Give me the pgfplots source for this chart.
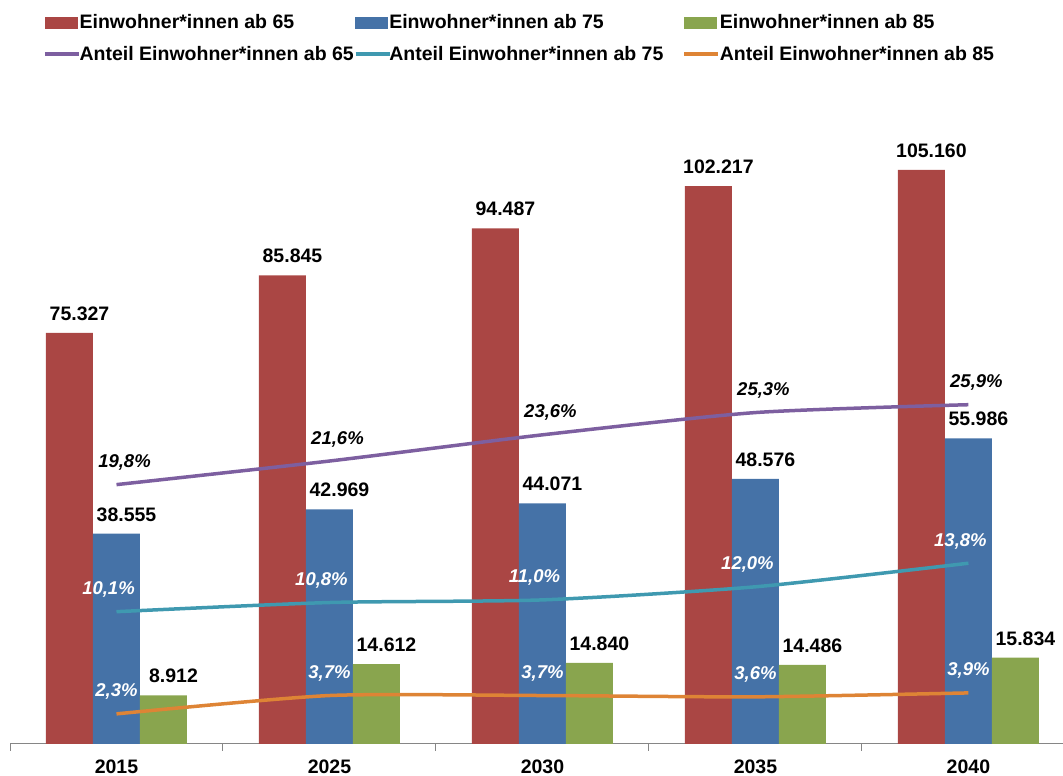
\documentclass[border=0pt]{standalone}
\usepackage{fontspec}
\setmainfont{Liberation Sans}
\usepackage{pgfplots}
\pgfplotsset{compat=1.18}
\definecolor{cR}{HTML}{AA4644}
\definecolor{cB}{HTML}{4572A7}
\definecolor{cG}{HTML}{89A54E}
\definecolor{cP}{HTML}{7D5FA0}
\definecolor{cC}{HTML}{3F99B0}
\definecolor{cO}{HTML}{DE8435}
\definecolor{axgray}{HTML}{868686}
\newcommand{\lblfont}{\fontsize{19.5}{23}\selectfont\bfseries}
\newcommand{\pctfont}{\fontsize{18.5}{22}\selectfont\bfseries\itshape}
\begin{document}
\begin{tikzpicture}[x=1pt,y=1pt]
\useasboundingbox (0,0) rectangle (1063,776);
\pgfplotsset{
  base/.style={
    scale only axis, width=1053pt, height=655pt,
    at={(10pt,32pt)}, anchor=south west,
    xmin=-0.5, xmax=4.444,
    clip=false,
  }
}
\begin{axis}[base, ymin=0, ymax=120000,
  ybar=0pt, bar width=47pt,
  axis x line*=bottom, axis y line=none,
  axis line style={draw=axgray, line width=1pt, -},
  xtick={0,1,2,3,4}, xticklabels={2015,2025,2030,2035,2040},
  major tick length=0pt,
  extra x ticks={-0.5,0.5,1.5,2.5,3.5}, extra x tick labels={},
  extra x tick style={major tick length=7pt, tick align=outside, tick style={draw=axgray, line width=1pt}},
  xticklabel style={font=\lblfont, yshift=-12.5pt},
  nodes near coords, point meta=explicit symbolic,
  every node near coord/.append style={font=\lblfont, text=black, anchor=base, xshift=10pt, yshift=12.5pt},
]
\addplot[fill=cR, draw=none] coordinates {(0,75327) [75.327] (1,85845) [85.845] (2,94487) [94.487] (3,102217) [102.217] (4,105160) [105.160]};
\addplot[fill=cB, draw=none] coordinates {(0,38555) [38.555] (1,42969) [42.969] (2,44071) [44.071] (3,48576) [48.576] (4,55986) [55.986]};
\addplot[fill=cG, draw=none] coordinates {(0,8912) [8.912] (1,14612) [14.612] (2,14840) [14.840] (3,14486) [14.486] (4,15834) [15.834]};
\end{axis}
\begin{axis}[base, ymin=0, ymax=50, hide axis,
  nodes near coords, point meta=explicit symbolic,
  every node near coord/.append style={font=\pctfont, anchor=base, yshift=17pt},
  legend columns=3,
  legend cell align=left,
  legend style={at={(0.0313,1.117)}, anchor=north west, draw=none, fill=none,
    font=\lblfont, inner sep=0pt, row sep=12pt,
    nodes={inner xsep=0pt, inner ysep=2pt},
    /tikz/column 1/.style={column sep=-1pt},
    /tikz/column 2/.style={column sep=0pt},
    /tikz/column 3/.style={column sep=-2pt},
    /tikz/column 4/.style={column sep=19pt},
    /tikz/column 5/.style={column sep=0pt}},
]
\addlegendimage{legend image code/.code={\fill[cR] (0pt,-5.5pt) rectangle (32pt,5.5pt);}}
\addlegendentry{Einwohner*innen ab 65}
\addlegendimage{legend image code/.code={\fill[cB] (0pt,-5.5pt) rectangle (32pt,5.5pt);}}
\addlegendentry{Einwohner*innen ab 75}
\addlegendimage{legend image code/.code={\fill[cG] (0pt,-5.5pt) rectangle (32pt,5.5pt);}}
\addlegendentry{Einwohner*innen ab 85}
\addplot[cP, line width=3.5pt, smooth, tension=0.4, every node near coord/.append style={text=black, xshift=8pt},
  legend image code/.code={\draw[cP, line width=3.5pt] (0pt,0pt) -- (34pt,0pt);}]
  coordinates {(0,19.8) [19,8\%] (1,21.6) [21,6\%] (2,23.6) [23,6\%] (3,25.3) [25,3\%] (4,25.9) [25,9\%]};
\addlegendentry{Anteil Einwohner*innen ab 65}
\addplot[cC, line width=3.5pt, smooth, tension=0.4, every node near coord/.append style={text=white, xshift=-8pt},
  legend image code/.code={\draw[cC, line width=3.5pt] (0pt,0pt) -- (34pt,0pt);}]
  coordinates {(0,10.1) [10,1\%] (1,10.8) [10,8\%] (2,11.0) [11,0\%] (3,12.0) [12,0\%] (4,13.8) [13,8\%]};
\addlegendentry{Anteil Einwohner*innen ab 75}
\addplot[cO, line width=3.5pt, smooth, tension=0.4, every node near coord/.append style={text=white, xshift=0pt},
  legend image code/.code={\draw[cO, line width=3.5pt] (0pt,0pt) -- (34pt,0pt);}]
  coordinates {(0,2.3) [2,3\%] (1,3.7) [3,7\%] (2,3.7) [3,7\%] (3,3.6) [3,6\%] (4,3.9) [3,9\%]};
\addlegendentry{Anteil Einwohner*innen ab 85}
\end{axis}
\end{tikzpicture}
\end{document}
